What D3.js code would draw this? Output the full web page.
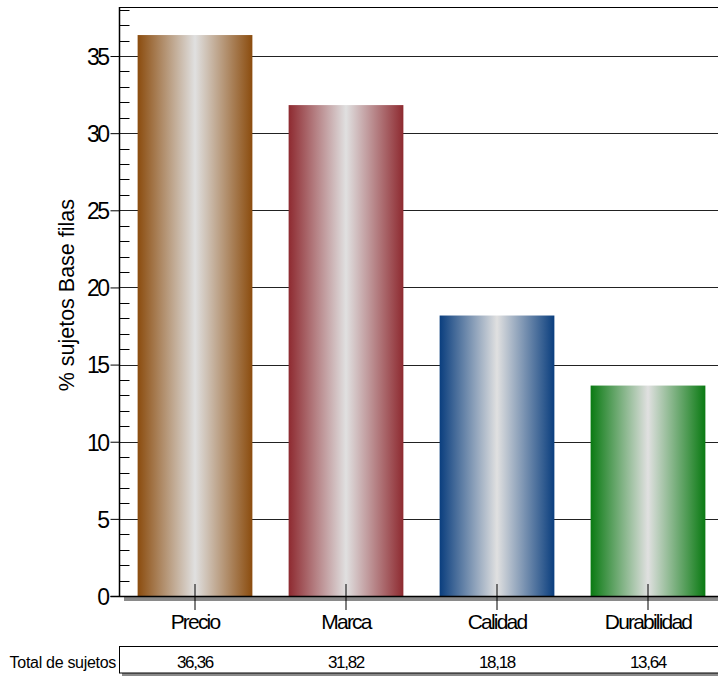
<!DOCTYPE html>
<html><head><meta charset="utf-8">
<script src="https://cdn.jsdelivr.net/npm/d3@7"></script>
<style>body{margin:0;background:#fff}svg{display:block;font-family:"Liberation Sans",Arial,sans-serif}</style>
</head><body>
<script>
const categories = ["Precio","Marca","Calidad","Durabilidad"];
const values = [36.36, 31.82, 18.18, 13.64];
const valueLabels = ["36,36","31,82","18,18","13,64"];
const colors = ["#8B4C0E","#8E2A30","#0A3E7E","#0A7A12"];
const yTicks = [0,5,10,15,20,25,30,35];
const yMinorTicks = d3.range(0,39,1);
const yTitle = "% sujetos Base filas";
const rowTitle = "Total de sujetos";

const W=718,H=677;
const svg=d3.select("body").append("svg").attr("width",W).attr("height",H);
const x0=119.5, y0=596, yTop=7;
const y=d3.scaleLinear().domain([0,36.36*1.05]).range([y0,yTop]);
const x=d3.scaleBand().domain(categories).range([x0,x0+604]).paddingInner(0.24).paddingOuter(0.12);

const defs=svg.append("defs");
colors.forEach((c,i)=>{
  const g=defs.append("linearGradient").attr("id","g"+i).attr("x1","0").attr("x2","1").attr("y1","0").attr("y2","0");
  g.append("stop").attr("offset","0%").attr("stop-color",c);
  g.append("stop").attr("offset","50%").attr("stop-color","#e0e0e0");
  g.append("stop").attr("offset","100%").attr("stop-color",c);
});

// frame top
svg.append("line").attr("x1",x0).attr("x2",W).attr("y1",yTop+0.5).attr("y2",yTop+0.5).attr("stroke","#000");
// gridlines
svg.append("g").selectAll("line").data(yTicks.filter(d=>d>0)).join("line")
  .attr("x1",x0).attr("x2",W).attr("y1",d=>Math.round(y(d))+0.5).attr("y2",d=>Math.round(y(d))+0.5)
  .attr("stroke","#222").attr("stroke-width",1);
// minor ticks inward
svg.append("g").selectAll("line").data(yMinorTicks.filter(d=>d%5!==0)).join("line")
  .attr("x1",x0).attr("x2",x0+10).attr("y1",d=>Math.round(y(d))+0.5).attr("y2",d=>Math.round(y(d))+0.5)
  .attr("stroke","#000");
// bars
svg.append("g").selectAll("rect").data(values).join("rect")
  .attr("x",(d,i)=>x(categories[i])).attr("width",x.bandwidth())
  .attr("y",d=>y(d)).attr("height",d=>y0-y(d))
  .attr("fill",(d,i)=>`url(#g${i})`);
// x axis shadow + line
svg.append("rect").attr("x",124).attr("y",y0+1).attr("width",W-124).attr("height",4).attr("fill","#8a8a8a");
svg.append("line").attr("x1",x0-9).attr("x2",W).attr("y1",y0+0.5).attr("y2",y0+0.5).attr("stroke","#000").attr("stroke-width",1.5);
// y axis
const ya=svg.append("g").attr("transform",`translate(${x0},0)`)
  .call(d3.axisLeft(y).tickValues(yTicks).tickSize(9).tickPadding(3).tickFormat(d3.format("d")));
ya.select(".domain").remove();
ya.selectAll(".tick line").attr("stroke","#000");
ya.selectAll("text").attr("font-size",23).attr("letter-spacing",-2.6).attr("fill","#000").attr("dy","0.36em");
svg.append("line").attr("x1",x0).attr("x2",x0).attr("y1",yTop).attr("y2",y0).attr("stroke","#000").attr("stroke-width",1.5);
// x axis ticks & labels
const xa=svg.append("g").attr("transform",`translate(0,${y0})`)
  .call(d3.axisBottom(x).tickSize(14).tickPadding(3));
xa.select(".domain").remove();
xa.selectAll(".tick line").attr("stroke","#000").attr("y1",-12);
xa.selectAll("text").attr("y",18).attr("font-size",21).attr("letter-spacing",-1.8).attr("fill","#000");
// y title
svg.append("text").attr("transform",`translate(74,${y(19.5)}) rotate(-90)`).attr("text-anchor","middle")
  .attr("font-size",21.5).attr("fill","#000").text(yTitle);
// table
svg.append("rect").attr("x",122).attr("y",649).attr("width",W).attr("height",27).attr("fill","#8a8a8a");
svg.append("rect").attr("x",x0).attr("y",646.5).attr("width",W).attr("height",26.5).attr("fill","#fff").attr("stroke","#000");
svg.append("text").attr("x",116).attr("y",668).attr("text-anchor","end").attr("font-size",16).attr("letter-spacing",-0.3).attr("fill","#000").text(rowTitle);
svg.append("g").selectAll("text").data(valueLabels).join("text")
  .attr("x",(d,i)=>x(categories[i])+x.bandwidth()/2).attr("y",668).attr("text-anchor","middle")
  .attr("font-size",17).attr("letter-spacing",-1.3).attr("fill","#000").text(d=>d);
</script>
</body></html>
